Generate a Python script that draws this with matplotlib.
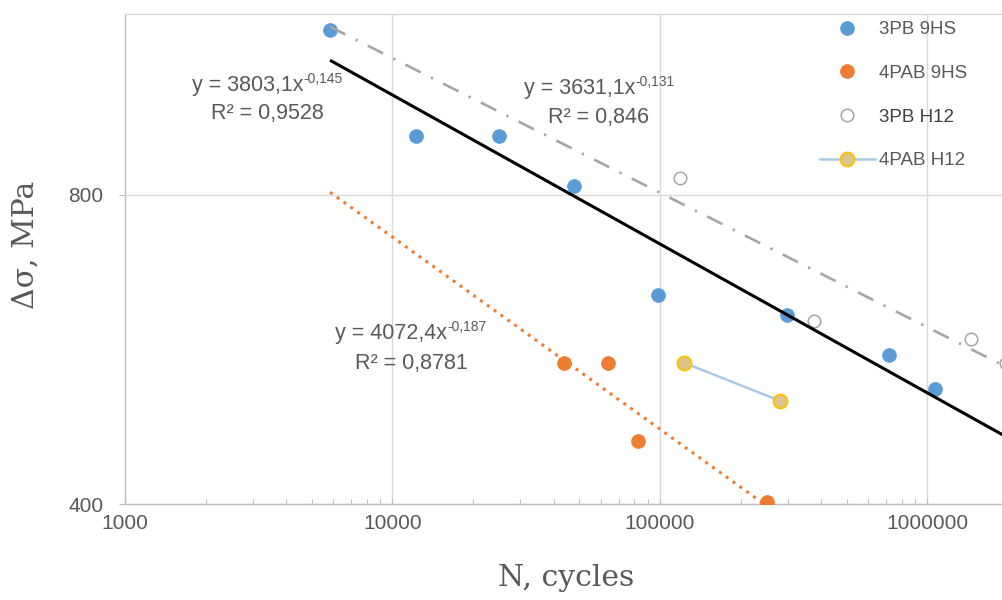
import numpy as np
import matplotlib
matplotlib.use("Agg")
import matplotlib.pyplot as plt
from matplotlib.lines import Line2D
from matplotlib.ticker import FixedLocator, FixedFormatter, LogLocator, NullFormatter

# Fatigue test results: N (cycles to failure) vs stress range (MPa)
n_3pb_9hs = [5840, 12240, 25010, 47700, 98300, 298400, 717800, 1067000]
s_3pb_9hs = [1158, 913, 913, 816, 639, 611, 559, 518]

n_4pab_9hs = [43760, 63900, 82770, 251200]
s_4pab_9hs = [549, 549, 461, 402]

n_3pb_h12 = [118800, 376500, 1454000, 1966000]
s_3pb_h12 = [831, 603, 579, 549]

n_4pab_h12 = [122900, 281000]
s_4pab_h12 = [549, 504]

# Power-law trend lines  y = a * x^b  (a, b, R^2)
fit_3pb_9hs = (3803.1, -0.145, 0.9528)
fit_3pb_h12 = (3631.1, -0.131, 0.846)
fit_4pab_9hs = (4072.4, -0.187, 0.8781)

series_labels = ["3PB 9HS", "4PAB 9HS", "3PB H12", "4PAB H12"]
x_ticks = [1000, 10000, 100000, 1000000]
y_ticks = [400, 800]
x_limits = (1000, 2000000)
y_limits = (400, 1200)

BLUE = "#5B9BD5"
ORANGE = "#ED7D31"
GRAY = "#A5A5A5"
GOLD = "#FFC000"
TXT = "#595959"
AXC = "#BFBFBF"
GRID = "#D9D9D9"

W, H = 1003, 600
fig = plt.figure(figsize=(W / 100, H / 100), dpi=100)
ax = fig.add_axes([125 / W, 96 / H, 883 / W, 490.2 / H])

ax.set_xscale("log", base=10)
ax.set_yscale("log", base=2)
ax.set_xlim(*x_limits)
ax.set_ylim(*y_limits)

# ticks and grid
ax.xaxis.set_major_locator(FixedLocator(x_ticks))
ax.xaxis.set_major_formatter(FixedFormatter([str(v) for v in x_ticks]))
ax.xaxis.set_minor_locator(LogLocator(base=10, subs=np.arange(2, 10)))
ax.xaxis.set_minor_formatter(NullFormatter())
ax.yaxis.set_major_locator(FixedLocator(y_ticks))
ax.yaxis.set_major_formatter(FixedFormatter([str(v) for v in y_ticks]))
ax.yaxis.set_minor_locator(FixedLocator([]))

ax.grid(True, which="major", color=GRID, lw=1.0, zorder=0)
ax.set_axisbelow(True)

ax.tick_params(axis="x", which="both", direction="in", length=3.8, width=0.8,
               color=AXC, labelsize=15, labelcolor=TXT, pad=7)
ax.tick_params(axis="y", which="major", direction="out", length=4.3, width=0.8,
               color=AXC, labelsize=15, labelcolor=TXT, pad=11)
for lab in ax.get_xticklabels() + ax.get_yticklabels():
    lab.set_fontfamily("Liberation Sans")

ax.spines["right"].set_visible(False)
ax.spines["top"].set_color(GRID)
ax.spines["top"].set_linewidth(1.0)
for side in ("left", "bottom"):
    ax.spines[side].set_color(AXC)
    ax.spines[side].set_linewidth(1.0)

# data points
ms = 10
ax.plot(n_3pb_9hs, s_3pb_9hs, ls="none", marker="o", ms=ms, mfc=BLUE, mec=BLUE,
        mew=0.5, zorder=3)
ax.plot(n_4pab_9hs, s_4pab_9hs, ls="none", marker="o", ms=ms, mfc=ORANGE, mec=ORANGE,
        mew=0.5, zorder=3)
ax.plot(n_3pb_h12, s_3pb_h12, ls="none", marker="o", ms=9, mfc="white", mec=GRAY,
        mew=1.1, zorder=3)
ax.plot(n_4pab_h12, s_4pab_h12, color="#A9C9E8", lw=1.8, marker="o", ms=ms,
        mfc="#DCC48C", mec=GOLD, mew=1.4, zorder=3)


# trend lines
def power_curve(fit, x0, x1):
    a, b, _ = fit
    x = np.logspace(np.log10(x0), np.log10(x1), 200)
    return x, a * x ** b


xx, yy = power_curve(fit_3pb_9hs, n_3pb_9hs[0], x_limits[1])
ax.plot(xx, yy, color="black", lw=2.2, solid_capstyle="butt", zorder=4)

xx, yy = power_curve(fit_3pb_h12, n_3pb_9hs[0], x_limits[1])
ax.plot(xx, yy, color=GRAY, lw=1.9, dashes=(6.5, 4.3, 0.9, 4.3),
        dash_capstyle="butt", zorder=4)

xx, yy = power_curve(fit_4pab_9hs, n_3pb_9hs[0], n_4pab_9hs[-1])
ax.plot(xx, yy, color=ORANGE, lw=2.2, dashes=(1, 1.75),
        dash_capstyle="butt", zorder=4)


# trend equation labels
def fmt(v):
    return f"{v}".replace(".", ",")


def equation_block(fit, center_px, y1_px, y2_px):
    a, b, r2 = fit
    main = f"y = {fmt(a)}x"
    sup = fmt(b)
    t1 = fig.text(0, 0, main, fontsize=15.5, family="Liberation Sans")
    t2 = fig.text(0, 0, sup, fontsize=10, family="Liberation Sans")
    fig.canvas.draw()
    w1 = t1.get_window_extent().width
    w2 = t2.get_window_extent().width
    t1.remove()
    t2.remove()
    left = center_px - (w1 + w2) / 2
    fig.text(left / W, 1 - y1_px / H, main, ha="left", va="center",
             fontsize=15.5, color=TXT, family="Liberation Sans")
    fig.text((left + w1) / W, 1 - (y1_px - 6) / H, sup, ha="left", va="center",
             fontsize=10, color=TXT, family="Liberation Sans")
    fig.text(center_px / W, 1 - y2_px / H, f"R² = {fmt(r2)}", ha="center",
             va="center", fontsize=15.5, color=TXT, family="Liberation Sans")


equation_block(fit_3pb_9hs, 267, 85, 114)
equation_block(fit_3pb_h12, 599, 88, 118)
equation_block(fit_4pab_9hs, 411, 333, 364)

# axis titles
fig.text(566 / W, 1 - 578 / H, "N, cycles", ha="center", va="center",
         fontsize=21.5, color=TXT, family="DejaVu Serif")
fig.text(26 / W, 1 - 245 / H, "Δσ, MPa", ha="center", va="center", rotation=90,
         fontsize=21.5, color=TXT, family="DejaVu Serif")

# legend
handles = [
    Line2D([], [], ls="none", marker="o", ms=ms, mfc=BLUE, mec=BLUE, mew=0.5),
    Line2D([], [], ls="none", marker="o", ms=ms, mfc=ORANGE, mec=ORANGE, mew=0.5),
    Line2D([], [], ls="none", marker="o", ms=9, mfc="white", mec=GRAY, mew=1.1),
    Line2D([], [], color="#A9C9E8", lw=1.8, marker="o", ms=ms, mfc="#DCC48C",
           mec=GOLD, mew=1.4),
]
leg = fig.legend(handles, series_labels, loc="upper left",
                 bbox_to_anchor=(820 / W, 1 - 21 / H), frameon=False,
                 borderpad=0, borderaxespad=0, handlelength=2.93,
                 handletextpad=0.2, labelspacing=1.42,
                 prop={"family": "Liberation Sans", "size": 13.5})
for txt, col in zip(leg.get_texts(), [TXT, TXT, "#404040", TXT]):
    txt.set_color(col)

fig.savefig("out.png", dpi=100)
